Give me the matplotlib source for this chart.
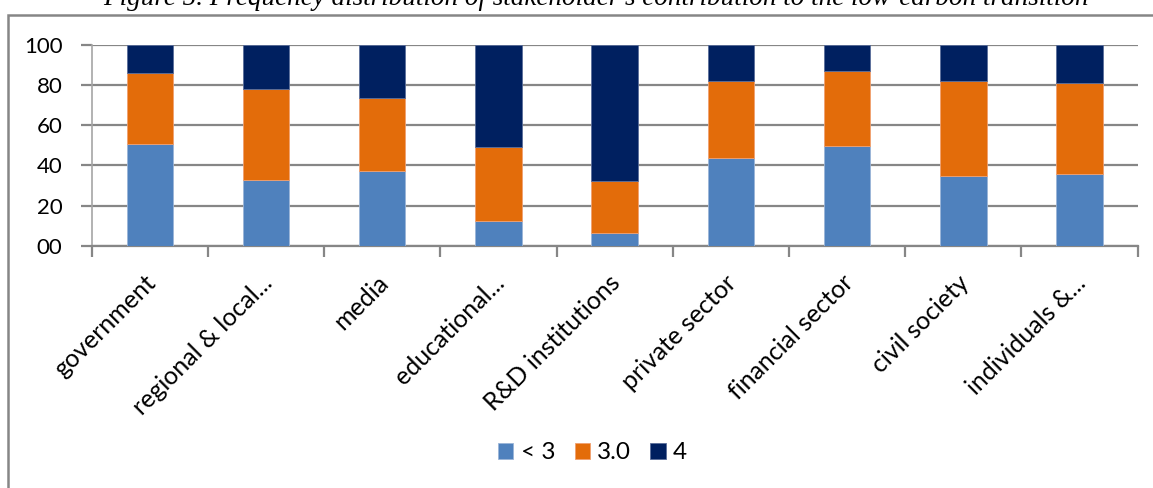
import numpy as np
import matplotlib.pyplot as plt
import matplotlib.transforms as mtrans
from matplotlib.patches import Rectangle

# values (percent)
categories = ["government", "regional & local...", "media", "educational...",
              "R&D institutions", "private sector", "financial sector",
              "civil society", "individuals &..."]
below3 = [50.5, 32.6, 37.1, 12.6, 6.3, 43.6, 49.5, 34.6, 35.6]
three = [35.4, 45.4, 36.4, 36.6, 26.0, 38.4, 37.4, 47.5, 45.4]
four = [14.1, 22.0, 26.5, 50.8, 67.7, 18.0, 13.1, 17.9, 19.0]
series_names = ["< 3", "3.0", "4"]

col_blue = "#4F81BD"
col_orange = "#E36C0A"
col_navy = "#002060"
grid_col = "#868686"

plt.rcParams['font.family'] = ['Lato', 'DejaVu Sans']

fig = plt.figure(figsize=(11.53, 4.88), dpi=100)
ax = fig.add_axes([0.0795, 0.496, 0.9072, 0.4124])

x = np.arange(len(categories))
w = 0.4
b1 = np.array(below3)
b2 = b1 + np.array(three)
ax.bar(x, below3, w, color=col_blue, edgecolor="#9BB5D8", linewidth=0.6, label=series_names[0], zorder=3)
ax.bar(x, three, w, bottom=b1, color=col_orange, edgecolor="#F0A070", linewidth=0.6, label=series_names[1], zorder=3)
ax.bar(x, four, w, bottom=b2, color=col_navy, edgecolor="#5A6E9A", linewidth=0.6, label=series_names[2], zorder=3)

ax.set_xlim(-0.5, len(categories) - 0.5)
ax.set_ylim(0, 100)
ax.set_yticks(np.arange(0, 101, 20))
ax.set_yticklabels([f"{v:02d}" for v in range(0, 101, 20)], fontsize=16)
ax.yaxis.grid(True, color=grid_col, linewidth=1.6, zorder=0)
ax.tick_params(axis='y', length=8, width=1.6, color=grid_col, pad=13)

ax.set_xticks(x)
ax.set_xticklabels(categories, rotation=45, ha='right', rotation_mode='anchor', fontsize=18)
ax.tick_params(axis='x', which='major', length=0, pad=18)
ax.set_xticks(np.arange(-0.5, len(categories), 1), minor=True)
ax.tick_params(axis='x', which='minor', length=8, width=1.6, color=grid_col)

for s in ['right', 'top']:
    ax.spines[s].set_visible(False)
ax.spines['bottom'].set_color(grid_col)
ax.spines['bottom'].set_linewidth(1.6)
ax.spines['left'].set_color("#A6A6A6")
ax.spines['left'].set_linewidth(1.2)

# nudge the rotated labels so they end just right of the bar centre
off = mtrans.ScaledTranslation(-6 / 100, 0, fig.dpi_scale_trans)
for lbl in ax.get_xticklabels():
    lbl.set_transform(lbl.get_transform() + off)

leg = fig.legend(loc='center', bbox_to_anchor=(0.514, 0.072), ncol=3, frameon=False,
                 fontsize=17.5, handlelength=0.62, handleheight=0.62, handletextpad=0.3,
                 columnspacing=0.8)

# outer chart border (runs past the right and bottom of the image)
fig.patches.append(Rectangle((8 / 1153, -0.1), 1.2, 1 - 15 / 488 + 0.1, transform=fig.transFigure,
                             fill=False, edgecolor=grid_col, linewidth=1.8))

fig.text(0.517, 1 - 5 / 488,
         "Figure 5. Frequency distribution of stakeholder's contribution to the low-carbon transition",
         ha='center', va='baseline', fontsize=19.5, style='italic', family='Liberation Serif')

fig.savefig("out.png", dpi=100)
